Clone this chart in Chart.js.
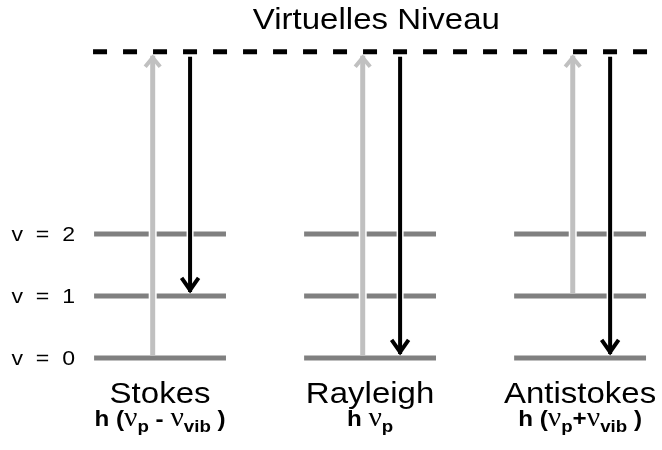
<!DOCTYPE html>
<html>
<head>
<meta charset="utf-8">
<script src="https://cdn.jsdelivr.net/npm/chart.js@4"></script>
<style>
  body { margin: 0; background: #fff; }
  #wrap { width: 662px; height: 450px; }
</style>
</head>
<body>
<div id="wrap"><canvas id="raman" width="662" height="450"></canvas></div>
<script>
// ---- data ----
const columns = ["Stokes", "Rayleigh", "Antistokes"];
const levels = [0, 1, 2];
const levelLabels = ["v  =  0", "v  =  1", "v  =  2"];
const virtualLevel = 4.94;
const virtualLabel = "Virtuelles Niveau";
const pumpFrom = [0, 0, 1];   // gray arrow starts at this v
const emitTo = [1, 0, 0];     // black arrow ends at this v
// photon energy per column, as text runs: b = bold, g = greek, s = subscript
const formulas = [
  [["h", "b"], [" (", "b"], ["ν", "g"], ["p", "s"], [" - ", "b"], ["ν", "g"], ["vib", "s"], [" )", "b"]],
  [["h ", "b"], ["ν", "g"], ["p", "s"]],
  [["h", "b"], [" (", "b"], ["ν", "g"], ["p", "s"], ["+", "b"], ["ν", "g"], ["vib", "s"], [" )", "b"]]
];

// ---- styles ----
const LEVEL_COLOR = "#808080";
const PUMP_COLOR = "#c0c0c0";
const EMIT_COLOR = "#000000";
const HALF = 0.314;       // half width of a level line (x units)
const SANS = '"Liberation Sans", Arial, sans-serif';
const STRETCH = 1.1;      // text in the reference is a bit wide

// ---- datasets ----
const datasets = [];

datasets.push({
  data: [{ x: -0.319, y: virtualLevel }, { x: 2.324, y: virtualLevel }],
  borderColor: "#000", borderWidth: 5, borderDash: [14, 16], order: 0
});

columns.forEach((name, i) => {
  levels.forEach(v => {
    datasets.push({
      data: [{ x: i - HALF, y: v }, { x: i + HALF, y: v }],
      borderColor: LEVEL_COLOR, borderWidth: 5, order: 4
    });
  });

  const pump = [{ x: i - 0.035, y: levels[pumpFrom[i]] + 0.05 }, { x: i - 0.035, y: virtualLevel - 0.065 }];
  const emit = [{ x: i + 0.143, y: virtualLevel - 0.08 }, { x: i + 0.143, y: levels[emitTo[i]] + 0.065 }];

  // thin white halo where arrows cross the levels
  datasets.push({ data: pump, borderColor: "#fff", borderWidth: 8, order: 3 });
  datasets.push({ data: emit, borderColor: "#fff", borderWidth: 7, order: 3 });

  datasets.push({ data: pump, borderColor: PUMP_COLOR, borderWidth: 5, order: 1,
    arrow: { w: 15, h: 11, width: 4 } });
  datasets.push({ data: emit, borderColor: EMIT_COLOR, borderWidth: 4, order: 1,
    arrow: { w: 17, h: 14, width: 4 } });
});

// ---- plugins ----
const arrowHeads = {
  id: "arrowHeads",
  afterDatasetsDraw(chart) {
    const ctx = chart.ctx;
    chart.data.datasets.forEach((ds, i) => {
      if (!ds.arrow) return;
      const pts = chart.getDatasetMeta(i).data;
      const a = pts[0], b = pts[pts.length - 1];
      const dir = Math.sign(b.y - a.y);
      const { w, h, width } = ds.arrow;
      ctx.save();
      ctx.strokeStyle = ds.borderColor;
      ctx.lineWidth = width;
      ctx.lineJoin = "miter";
      ctx.beginPath();
      ctx.moveTo(b.x - w / 2, b.y - dir * h);
      ctx.lineTo(b.x, b.y - dir * 2);
      ctx.lineTo(b.x + w / 2, b.y - dir * h);
      ctx.stroke();
      ctx.restore();
    });
  }
};

function stretchedText(ctx, text, x, y, font, align) {
  ctx.save();
  ctx.font = font;
  ctx.textAlign = align;
  ctx.textBaseline = "alphabetic";
  ctx.translate(x, y);
  ctx.scale(STRETCH, 1);
  ctx.fillText(text, 0, 0);
  ctx.restore();
}

const runFonts = {
  b: "bold 22px " + SANS,
  g: '27px "Liberation Serif", "Times New Roman", serif',
  s: "bold 17px " + SANS
};

const labels = {
  id: "labels",
  afterDraw(chart) {
    const ctx = chart.ctx;
    const xs = chart.scales.x, ys = chart.scales.y;
    ctx.fillStyle = "#000";

    stretchedText(ctx, virtualLabel, xs.getPixelForValue(1.03),
      ys.getPixelForValue(virtualLevel + 0.37), "30px " + SANS, "center");

    levels.forEach((v, k) => {
      stretchedText(ctx, levelLabels[k], xs.getPixelForValue(-0.405),
        ys.getPixelForValue(v - 0.12), "21px " + SANS, "right");
    });

    columns.forEach((name, i) => {
      const cx = xs.getPixelForValue(i);
      stretchedText(ctx, name, cx, ys.getPixelForValue(-0.726), "30px " + SANS, "center");

      // formula, centred under the column
      const base = ys.getPixelForValue(-1.09);
      const runs = formulas[i];
      let total = 0;
      const widths = runs.map(([t, k]) => {
        ctx.font = runFonts[k];
        const wd = ctx.measureText(t).width * STRETCH;
        total += wd;
        return wd;
      });
      let x = cx - total / 2;
      runs.forEach(([t, k], j) => {
        stretchedText(ctx, t, x, base + (k === "s" ? 6 : 0), runFonts[k], "left");
        x += widths[j];
      });
    });
  }
};

// ---- chart ----
new Chart(document.getElementById("raman"), {
  type: "line",
  data: { datasets: datasets.map(d => Object.assign({ pointRadius: 0, fill: false, tension: 0 }, d)) },
  options: {
    responsive: false,
    animation: false,
    events: [],
    layout: { padding: 0 },
    plugins: { legend: { display: false }, tooltip: { enabled: false } },
    scales: {
      x: { type: "linear", min: -0.762, max: 2.390, display: false },
      y: { type: "linear", min: -1.484, max: 5.774, display: false }
    }
  },
  plugins: [arrowHeads, labels]
});
</script>
</body>
</html>
